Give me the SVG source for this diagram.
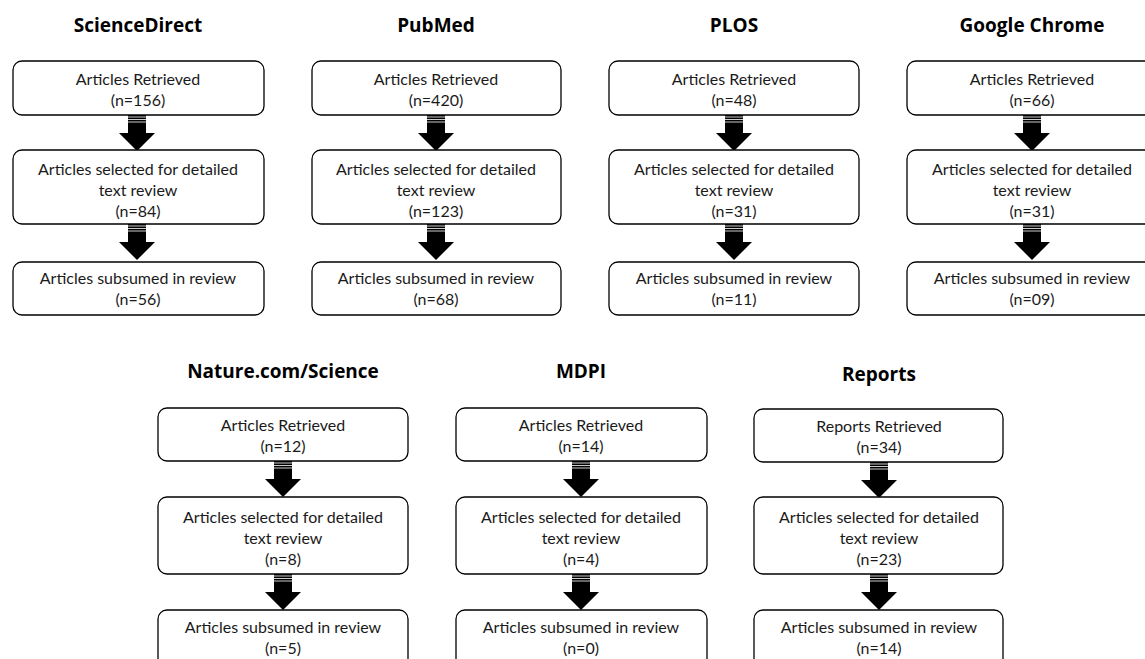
<svg xmlns="http://www.w3.org/2000/svg" xmlns:xlink="http://www.w3.org/1999/xlink" width="1145" height="659" viewBox="0 0 1145 659">
<style>
.box{fill:#fff;stroke:#000;stroke-width:1.3}
.t{font-family:Lato,"Liberation Sans",sans-serif;font-size:16px;fill:#1a1a1a;text-anchor:middle}
.h{font-family:"Open Sans","Liberation Sans",sans-serif;font-weight:bold;font-size:19px;fill:#000;text-anchor:middle}
</style>
<defs>
<g id="arrow">
<rect x="-9" y="0" width="18" height="19" fill="#000"/>
<line x1="-9" x2="9" y1="2" y2="2" stroke="#fff" stroke-width="0.8"/>
<line x1="-9" x2="9" y1="4.5" y2="4.5" stroke="#fff" stroke-width="0.8"/>
<line x1="-9" x2="9" y1="7" y2="7" stroke="#fff" stroke-width="0.8"/>
<polygon points="-18,18 18,18 0,36" fill="#000"/>
</g>
</defs>
<rect width="1145" height="659" fill="#fff"/>

<g id="titles">
<text class="h" x="138" y="32">ScienceDirect</text>
<text class="h" x="436" y="32">PubMed</text>
<text class="h" x="734" y="32">PLOS</text>
<text class="h" x="1032" y="32">Google Chrome</text>
<text class="h" x="283" y="378">Nature.com/Science</text>
<text class="h" x="581" y="378">MDPI</text>
<text class="h" x="879" y="381">Reports</text>
</g>

<g id="connectors">
<use xlink:href="#arrow" x="137" y="115"/>
<use xlink:href="#arrow" x="137" y="224"/>
<use xlink:href="#arrow" x="436" y="115"/>
<use xlink:href="#arrow" x="436" y="224"/>
<use xlink:href="#arrow" x="734" y="115"/>
<use xlink:href="#arrow" x="734" y="224"/>
<use xlink:href="#arrow" x="1032" y="115"/>
<use xlink:href="#arrow" x="1032" y="224"/>
<use xlink:href="#arrow" x="283" y="461"/>
<use xlink:href="#arrow" x="283" y="574"/>
<use xlink:href="#arrow" x="581" y="461"/>
<use xlink:href="#arrow" x="581" y="574"/>
<use xlink:href="#arrow" x="879" y="462"/>
<use xlink:href="#arrow" x="879" y="574"/>
</g>

<!-- Row 1 -->
<g id="sd1"><rect class="box" x="13" y="61" width="251" height="54" rx="9"/><text class="t" x="138" y="85">Articles Retrieved</text><text class="t" x="138" y="106">(n=156)</text></g>
<g id="sd2"><rect class="box" x="13" y="150" width="251" height="74" rx="9"/><text class="t" x="138" y="175">Articles selected for detailed</text><text class="t" x="138" y="196">text review</text><text class="t" x="138" y="217">(n=84)</text></g>
<g id="sd3"><rect class="box" x="13" y="262" width="251" height="53" rx="9"/><text class="t" x="138" y="284">Articles subsumed in review</text><text class="t" x="138" y="305">(n=56)</text></g>

<g id="pm1"><rect class="box" x="312" y="61" width="249" height="54" rx="9"/><text class="t" x="436" y="85">Articles Retrieved</text><text class="t" x="436" y="106">(n=420)</text></g>
<g id="pm2"><rect class="box" x="312" y="150" width="249" height="74" rx="9"/><text class="t" x="436" y="175">Articles selected for detailed</text><text class="t" x="436" y="196">text review</text><text class="t" x="436" y="217">(n=123)</text></g>
<g id="pm3"><rect class="box" x="312" y="262" width="249" height="53" rx="9"/><text class="t" x="436" y="284">Articles subsumed in review</text><text class="t" x="436" y="305">(n=68)</text></g>

<g id="pl1"><rect class="box" x="609" y="61" width="250" height="54" rx="9"/><text class="t" x="734" y="85">Articles Retrieved</text><text class="t" x="734" y="106">(n=48)</text></g>
<g id="pl2"><rect class="box" x="609" y="150" width="250" height="74" rx="9"/><text class="t" x="734" y="175">Articles selected for detailed</text><text class="t" x="734" y="196">text review</text><text class="t" x="734" y="217">(n=31)</text></g>
<g id="pl3"><rect class="box" x="609" y="262" width="250" height="53" rx="9"/><text class="t" x="734" y="284">Articles subsumed in review</text><text class="t" x="734" y="305">(n=11)</text></g>

<g id="gc1"><rect class="box" x="907" y="61" width="250" height="54" rx="9"/><text class="t" x="1032" y="85">Articles Retrieved</text><text class="t" x="1032" y="106">(n=66)</text></g>
<g id="gc2"><rect class="box" x="907" y="150" width="250" height="74" rx="9"/><text class="t" x="1032" y="175">Articles selected for detailed</text><text class="t" x="1032" y="196">text review</text><text class="t" x="1032" y="217">(n=31)</text></g>
<g id="gc3"><rect class="box" x="907" y="262" width="250" height="53" rx="9"/><text class="t" x="1032" y="284">Articles subsumed in review</text><text class="t" x="1032" y="305">(n=09)</text></g>

<!-- Row 2 -->
<g id="ns1"><rect class="box" x="158" y="408" width="250" height="53" rx="9"/><text class="t" x="283" y="431">Articles Retrieved</text><text class="t" x="283" y="452">(n=12)</text></g>
<g id="ns2"><rect class="box" x="158" y="497" width="250" height="77" rx="9"/><text class="t" x="283" y="523">Articles selected for detailed</text><text class="t" x="283" y="544">text review</text><text class="t" x="283" y="565">(n=8)</text></g>
<g id="ns3"><rect class="box" x="158" y="610" width="250" height="60" rx="9"/><text class="t" x="283" y="633">Articles subsumed in review</text><text class="t" x="283" y="654">(n=5)</text></g>

<g id="md1"><rect class="box" x="456" y="408" width="251" height="53" rx="9"/><text class="t" x="581" y="431">Articles Retrieved</text><text class="t" x="581" y="452">(n=14)</text></g>
<g id="md2"><rect class="box" x="456" y="497" width="251" height="77" rx="9"/><text class="t" x="581" y="523">Articles selected for detailed</text><text class="t" x="581" y="544">text review</text><text class="t" x="581" y="565">(n=4)</text></g>
<g id="md3"><rect class="box" x="456" y="610" width="251" height="60" rx="9"/><text class="t" x="581" y="633">Articles subsumed in review</text><text class="t" x="581" y="654">(n=0)</text></g>

<g id="rp1"><rect class="box" x="754" y="409" width="249" height="53" rx="9"/><text class="t" x="879" y="432">Reports Retrieved</text><text class="t" x="879" y="453">(n=34)</text></g>
<g id="rp2"><rect class="box" x="754" y="497" width="249" height="77" rx="9"/><text class="t" x="879" y="523">Articles selected for detailed</text><text class="t" x="879" y="544">text review</text><text class="t" x="879" y="565">(n=23)</text></g>
<g id="rp3"><rect class="box" x="754" y="610" width="249" height="60" rx="9"/><text class="t" x="879" y="633">Articles subsumed in review</text><text class="t" x="879" y="654">(n=14)</text></g>
</svg>
